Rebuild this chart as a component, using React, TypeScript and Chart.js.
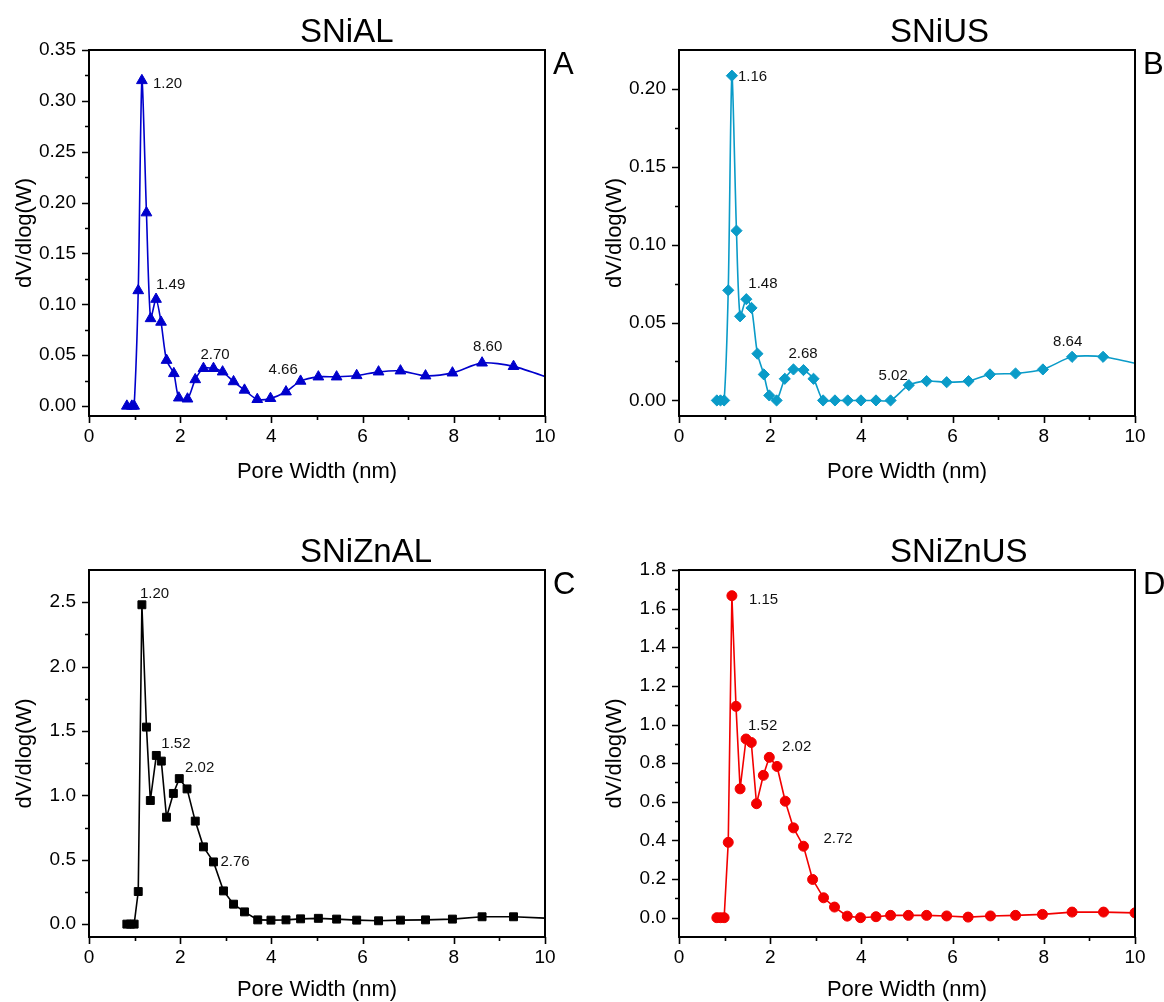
import React, { useEffect, useRef } from 'react';
import { Chart, registerables } from 'chart.js';

Chart.register(...registerables);

const FONT = "'Liberation Sans', Arial, Helvetica, sans-serif";

// ---------- data ----------
const widthA = [0.83, 0.94, 0.99, 1.08, 1.16, 1.26, 1.35, 1.47, 1.58, 1.70, 1.86, 1.97, 2.16, 2.33, 2.51, 2.73, 2.93, 3.17, 3.41, 3.69, 3.98, 4.32, 4.64, 5.03, 5.43, 5.87, 6.35, 6.83, 7.38, 7.97, 8.62, 9.31, 10.2];
const dvA = [0, 0, 0, 0.1135, 0.32, 0.19, 0.086, 0.105, 0.0825, 0.045, 0.032, 0.008, 0.007, 0.026, 0.037, 0.037, 0.0336, 0.024, 0.0157, 0.0065, 0.0075, 0.014, 0.0245, 0.0287, 0.0287, 0.03, 0.0336, 0.0346, 0.0297, 0.0326, 0.0424, 0.039, 0.026];

const widthB = [0.83, 0.91, 0.99, 1.08, 1.16, 1.26, 1.34, 1.476, 1.59, 1.72, 1.86, 1.98, 2.14, 2.32, 2.51, 2.73, 2.95, 3.16, 3.42, 3.70, 3.99, 4.32, 4.64, 5.04, 5.43, 5.87, 6.35, 6.82, 7.38, 7.98, 8.62, 9.30, 10.2];
const dvB = [0, 0, 0, 0.0707, 0.2085, 0.109, 0.054, 0.065, 0.0594, 0.03, 0.0167, 0.0032, 0, 0.0139, 0.0199, 0.0195, 0.0139, 0, 0, 0, 0, 0, 0, 0.0098, 0.0124, 0.0117, 0.0124, 0.0167, 0.0173, 0.0199, 0.028, 0.028, 0.0225];

const widthC = [0.83, 0.91, 0.99, 1.08, 1.16, 1.26, 1.345, 1.476, 1.586, 1.70, 1.85, 1.98, 2.15, 2.33, 2.51, 2.73, 2.95, 3.17, 3.41, 3.70, 3.99, 4.32, 4.64, 5.03, 5.43, 5.87, 6.35, 6.83, 7.38, 7.97, 8.62, 9.31, 10.2];
const dvC = [0, 0, 0, 0.253, 2.48, 1.53, 0.96, 1.31, 1.266, 0.83, 1.015, 1.13, 1.05, 0.8, 0.6, 0.483, 0.258, 0.155, 0.095, 0.033, 0.031, 0.033, 0.041, 0.045, 0.039, 0.031, 0.026, 0.031, 0.033, 0.039, 0.057, 0.057, 0.044];

const widthD = [0.83, 0.91, 0.99, 1.08, 1.16, 1.25, 1.34, 1.47, 1.585, 1.70, 1.85, 1.98, 2.15, 2.33, 2.51, 2.73, 2.93, 3.17, 3.41, 3.69, 3.98, 4.32, 4.64, 5.03, 5.43, 5.87, 6.34, 6.83, 7.38, 7.97, 8.62, 9.31, 10.0];
const dvD = [0, 0, 0, 0.39, 1.667, 1.094, 0.667, 0.925, 0.907, 0.59, 0.737, 0.83, 0.783, 0.603, 0.465, 0.37, 0.198, 0.103, 0.055, 0.008, 0, 0.005, 0.012, 0.012, 0.012, 0.009, 0.003, 0.009, 0.012, 0.017, 0.029, 0.029, 0.025];

// ---------- ticks ----------
const xTicks = [0, 2, 4, 6, 8, 10];
const yTicksA = [0, 0.05, 0.1, 0.15, 0.2, 0.25, 0.3, 0.35];
const yTicksB = [0, 0.05, 0.1, 0.15, 0.2];
const yTicksC = [0, 0.5, 1.0, 1.5, 2.0, 2.5];
const yTicksD = [0, 0.2, 0.4, 0.6, 0.8, 1.0, 1.2, 1.4, 1.6, 1.8];

// ---------- peak annotations (text, point index, pixel offset) ----------
const peaksA = [
  { text: '1.20', i: 4, dx: 11, dy: 3 },
  { text: '1.49', i: 7, dx: 0, dy: -14 },
  { text: '2.70', i: 15, dx: -13, dy: -14 },
  { text: '4.66', i: 22, dx: -32, dy: -11 },
  { text: '8.60', i: 30, dx: -9, dy: -16 },
];
const peaksB = [
  { text: '1.16', i: 4, dx: 6, dy: 1 },
  { text: '1.48', i: 7, dx: 2, dy: -15 },
  { text: '2.68', i: 15, dx: -15, dy: -16 },
  { text: '5.02', i: 22, dx: -12, dy: -25 },
  { text: '8.64', i: 30, dx: -19, dy: -15 },
];
const peaksC = [
  { text: '1.20', i: 4, dx: -2, dy: -11 },
  { text: '1.52', i: 8, dx: 0, dy: -17 },
  { text: '2.02', i: 12, dx: -2, dy: -21 },
  { text: '2.76', i: 15, dx: 7, dy: 0 },
];
const peaksD = [
  { text: '1.15', i: 4, dx: 17, dy: 4 },
  { text: '1.52', i: 7, dx: 2, dy: -13 },
  { text: '2.02', i: 12, dx: 5, dy: -20 },
  { text: '2.72', i: 15, dx: 20, dy: -7 },
];

const CW = 582;
const CH = 501;

type Peak = { text: string; i: number; dx: number; dy: number };
type PanelDef = {
  title: string;
  letter: string;
  xs: number[];
  ys: number[];
  color: string;
  pointStyle: string;
  radius: number;
  tension: number;
  yMin: number;
  yMax: number;
  yTicks: number[];
  dec: number;
  peaks: Peak[];
  left: number;
  top: number;
  area: { l: number; t: number; r: number; b: number };
  xTitleGap: number;
};

const panels: PanelDef[] = [
  {
    title: 'SNiAL', letter: 'A', xs: widthA, ys: dvA, color: '#0000cc', pointStyle: 'triangle', radius: 6.2, tension: 0.25,
    yMin: -0.0098, yMax: 0.35, yTicks: yTicksA, dec: 2, peaks: peaksA,
    left: 0, top: 0, area: { l: 89, t: 50, r: 545, b: 416 }, xTitleGap: 56,
  },
  {
    title: 'SNiUS', letter: 'B', xs: widthB, ys: dvB, color: '#0a9bc8', pointStyle: 'rectRot', radius: 5.6, tension: 0.25,
    yMin: -0.01, yMax: 0.225, yTicks: yTicksB, dec: 2, peaks: peaksB,
    left: 582, top: 0, area: { l: 97, t: 50, r: 553, b: 416 }, xTitleGap: 56,
  },
  {
    title: 'SNiZnAL', letter: 'C', xs: widthC, ys: dvC, color: '#000000', pointStyle: 'rect', radius: 5.6, tension: 0,
    yMin: -0.1, yMax: 2.75, yTicks: yTicksC, dec: 1, peaks: peaksC,
    left: 0, top: 501, area: { l: 89, t: 69, r: 545, b: 436 }, xTitleGap: 53,
  },
  {
    title: 'SNiZnUS', letter: 'D', xs: widthD, ys: dvD, color: '#f20000', pointStyle: 'circle', radius: 5, tension: 0,
    yMin: -0.1, yMax: 1.8, yTicks: yTicksD, dec: 1, peaks: peaksD,
    left: 582, top: 501, area: { l: 97, t: 69, r: 553, b: 436 }, xTitleGap: 53,
  },
];

function minorsOf(majors: number[]): number[] {
  const out: number[] = [];
  for (let k = 0; k < majors.length - 1; k++) out.push((majors[k] + majors[k + 1]) / 2);
  return out;
}

function Panel({ def }: { def: PanelDef }) {
  const ref = useRef<HTMLCanvasElement | null>(null);

  useEffect(() => {
    const canvas = ref.current;
    if (!canvas) return;

    const decor = {
      id: 'decor',
      afterDraw(chart: any) {
        const ctx = chart.ctx as CanvasRenderingContext2D;
        const a = chart.chartArea;
        const xs = chart.scales.x;
        const ys = chart.scales.y;
        ctx.save();
        // ticks
        ctx.strokeStyle = '#000';
        ctx.lineWidth = 1.6;
        ctx.beginPath();
        xTicks.forEach((v) => {
          const p = Math.round(xs.getPixelForValue(v)) + 0.5;
          ctx.moveTo(p, a.bottom);
          ctx.lineTo(p, a.bottom + 7);
        });
        minorsOf(xTicks).forEach((v) => {
          const p = Math.round(xs.getPixelForValue(v)) + 0.5;
          ctx.moveTo(p, a.bottom);
          ctx.lineTo(p, a.bottom + 4);
        });
        def.yTicks.forEach((v) => {
          const p = Math.round(ys.getPixelForValue(v)) + 0.5;
          ctx.moveTo(a.left, p);
          ctx.lineTo(a.left - 7, p);
        });
        minorsOf(def.yTicks).forEach((v) => {
          const p = Math.round(ys.getPixelForValue(v)) + 0.5;
          ctx.moveTo(a.left, p);
          ctx.lineTo(a.left - 4, p);
        });
        ctx.stroke();
        // frame
        ctx.lineWidth = 2;
        ctx.strokeRect(a.left, a.top, a.right - a.left, a.bottom - a.top);

        ctx.fillStyle = '#000';
        // title
        ctx.font = `33px ${FONT}`;
        ctx.textAlign = 'left';
        ctx.textBaseline = 'alphabetic';
        ctx.fillText(def.title, a.left + 211, a.top - 8);
        // letter
        ctx.font = `31px ${FONT}`;
        ctx.fillText(def.letter, a.right + 8, a.top + 24);
        // x title
        ctx.font = `22px ${FONT}`;
        ctx.textAlign = 'center';
        ctx.textBaseline = 'middle';
        ctx.fillText('Pore Width (nm)', (a.left + a.right) / 2, a.bottom + def.xTitleGap);
        // y title
        ctx.save();
        ctx.translate(a.left - 64, (a.top + a.bottom) / 2);
        ctx.rotate(-Math.PI / 2);
        ctx.fillText('dV/dlog(W)', 0, 0);
        ctx.restore();
        // peak labels
        ctx.font = `15px ${FONT}`;
        ctx.fillStyle = '#111';
        ctx.textAlign = 'left';
        ctx.textBaseline = 'middle';
        def.peaks.forEach((pk) => {
          const px = xs.getPixelForValue(def.xs[pk.i]);
          const py = ys.getPixelForValue(def.ys[pk.i]);
          ctx.fillText(pk.text, px + pk.dx, py + pk.dy);
        });
        ctx.restore();
      },
    };

    const chart = new Chart(canvas, {
      type: 'line',
      data: {
        datasets: [
          {
            data: def.xs.map((x, k) => ({ x, y: def.ys[k] })),
            borderColor: def.color,
            backgroundColor: def.color,
            borderWidth: 1.6,
            pointStyle: def.pointStyle as any,
            pointRadius: def.radius,
            pointBackgroundColor: def.color,
            pointBorderColor: def.color,
            pointBorderWidth: 1,
            tension: def.tension,
            fill: false,
          },
        ],
      },
      options: {
        responsive: false,
        animation: false,
        events: [],
        layout: {
          padding: { left: 0, top: def.area.t, right: CW - def.area.r, bottom: 0 },
        },
        plugins: {
          legend: { display: false },
          tooltip: { enabled: false },
          title: { display: false },
        },
        scales: {
          x: {
            type: 'linear',
            min: 0,
            max: 10,
            grid: { display: false, drawTicks: false },
            border: { display: false },
            ticks: {
              font: { family: FONT, size: 19 },
              color: '#000',
              padding: 9,
              autoSkip: false,
              maxRotation: 0,
              callback: (v: any) => String(v),
            },
            afterBuildTicks: (s: any) => {
              s.ticks = xTicks.map((v) => ({ value: v }));
            },
            afterFit: (s: any) => {
              s.height = CH - def.area.b;
            },
          },
          y: {
            type: 'linear',
            min: def.yMin,
            max: def.yMax,
            grid: { display: false, drawTicks: false },
            border: { display: false },
            ticks: {
              font: { family: FONT, size: 19 },
              color: '#000',
              padding: 13,
              autoSkip: false,
              callback: (v: any) => Number(v).toFixed(def.dec),
            },
            afterBuildTicks: (s: any) => {
              s.ticks = def.yTicks.map((v) => ({ value: v }));
            },
            afterFit: (s: any) => {
              s.width = def.area.l;
            },
          },
        },
      } as any,
      plugins: [decor],
    });

    return () => chart.destroy();
  }, [def]);

  return (
    <canvas
      ref={ref}
      width={CW}
      height={CH}
      style={{ position: 'absolute', left: def.left, top: def.top, width: CW, height: CH }}
    />
  );
}

export default function App() {
  return (
    <div style={{ position: 'absolute', left: 0, top: 0, width: 1164, height: 1002, background: '#fff' }}>
      {panels.map((p) => (
        <Panel key={p.letter} def={p} />
      ))}
    </div>
  );
}
